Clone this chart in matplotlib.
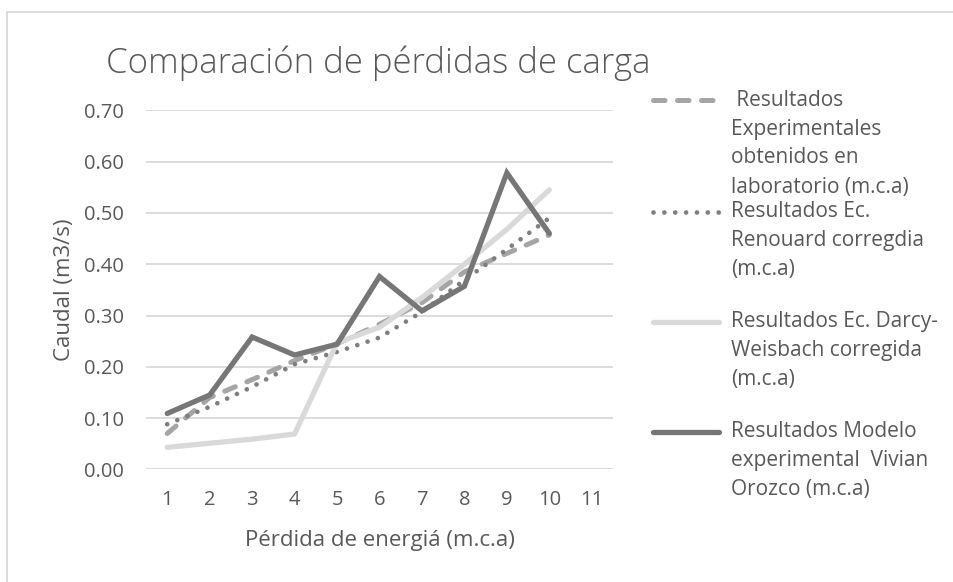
import matplotlib
matplotlib.use("Agg")
import matplotlib.pyplot as plt
from matplotlib.lines import Line2D
from matplotlib.patches import Rectangle

# Pérdida de energía categories and flow values per method
categorias = [1, 2, 3, 4, 5, 6, 7, 8, 9, 10]
eje_x_ticks = [1, 2, 3, 4, 5, 6, 7, 8, 9, 10, 11]
experimental = [0.070, 0.140, 0.175, 0.212, 0.245, 0.283, 0.325, 0.385, 0.421, 0.457]
renouard = [0.088, 0.122, 0.161, 0.205, 0.229, 0.257, 0.307, 0.369, 0.429, 0.490]
darcy = [0.043, 0.051, 0.059, 0.069, 0.247, 0.277, 0.335, 0.400, 0.468, 0.545]
vivian = [0.109, 0.145, 0.258, 0.223, 0.244, 0.376, 0.309, 0.357, 0.578, 0.460]

etiquetas = [
    " Resultados\nExperimentales\nobtenidos en\nlaboratorio (m.c.a)",
    "Resultados Ec.\nRenouard corregdia\n(m.c.a)",
    "Resultados Ec. Darcy-\nWeisbach corregida\n(m.c.a)",
    "Resultados Modelo\nexperimental  Vivian\nOrozco (m.c.a)",
]

TXT = "#595959"
GRID = "#d9d9d9"
plt.rcParams["font.family"] = ["Open Sans", "DejaVu Sans"]

W, H = 954, 582
fig = plt.figure(figsize=(W / 100, H / 100), dpi=100)

def fx(px):
    return px / W

def fy(py):
    return 1 - py / H

# chart frame
fig.add_artist(Rectangle((fx(7), fy(600)), fx(960), fy(12) - fy(600),
                         transform=fig.transFigure, fill=False,
                         edgecolor=GRID, linewidth=1.3))

ax = fig.add_axes([fx(146), fy(469.4), fx(613) - fx(146), fy(110.3) - fy(469.4)])
ax.set_xlim(0.5, 11.5)
ax.set_ylim(0, 0.70)
ax.set_yticks([0.0, 0.1, 0.2, 0.3, 0.4, 0.5, 0.6, 0.7])
ax.set_yticklabels([f"{v:.2f}" for v in ax.get_yticks()])
ax.set_xticks(eje_x_ticks)
ax.set_xticklabels([str(v) for v in eje_x_ticks])
for s in ax.spines.values():
    s.set_visible(False)
ax.grid(axis="y", color=GRID, linewidth=1.3)
ax.set_axisbelow(True)
ax.tick_params(length=0, labelsize=14.5, colors=TXT)
ax.tick_params(axis="y", pad=16)
ax.tick_params(axis="x", pad=15)

estilos = [
    dict(color="#a5a5a5", linewidth=3.6, linestyle=(0, (2.3, 2.5)), dash_capstyle="round"),
    dict(color="#7f7f7f", linewidth=3.4, linestyle=(0, (0.001, 2.3)), dash_capstyle="round"),
    dict(color="#d9d9d9", linewidth=3.8, linestyle="-", solid_capstyle="round"),
    dict(color="#767676", linewidth=3.8, linestyle="-", solid_capstyle="round",
         solid_joinstyle="miter"),
]
series = [experimental, renouard, darcy, vivian]
for i, (vals, st) in enumerate(zip(series, estilos)):
    ax.plot(categorias, vals, zorder=3 + i, **st)

ax.set_xlabel("Pérdida de energiá (m.c.a)", fontsize=16, color=TXT, labelpad=14)
ax.set_ylabel("Caudal (m3/s)", fontsize=16, color=TXT, labelpad=6)

fig.text(fx(378), fy(63), "Comparación de pérdidas de carga", fontsize=25,
         color=TXT, ha="center", va="center", fontweight="light")

# legend entries, first text line aligned with the key
primeras = [100, 211.7, 321.7, 431.7]
paso = 29
for lab, st, y0 in zip(etiquetas, estilos, primeras):
    fig.add_artist(Line2D([fx(653), fx(719)], [fy(y0), fy(y0)],
                          transform=fig.transFigure, **st))
    for k, linea in enumerate(lab.split("\n")):
        fig.text(fx(731), fy(y0 + k * paso), linea, fontsize=15, color=TXT,
                 ha="left", va="center")

fig.savefig("out.png", dpi=100)
